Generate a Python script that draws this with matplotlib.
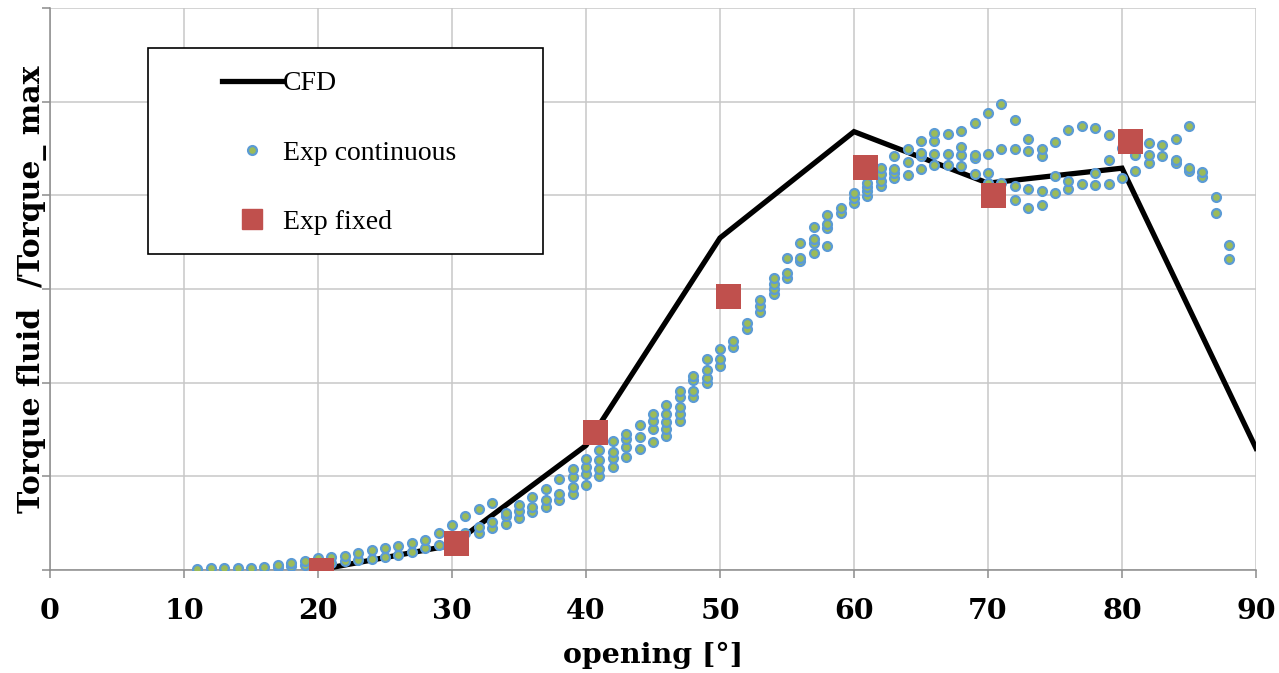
import matplotlib.pyplot as plt
from matplotlib.lines import Line2D
from matplotlib.patches import Rectangle

# CFD results
cfd_angle = [20, 30, 40, 50, 60, 70, 80, 90]
cfd_torque = [0.0, 0.053, 0.266, 0.709, 0.936, 0.826, 0.858, 0.260]

# Experiment, fixed openings
fixed_angle = [20.2, 30.3, 40.7, 50.6, 60.8, 70.4, 80.6]
fixed_torque = [0.0, 0.057, 0.294, 0.585, 0.860, 0.800, 0.915]

# Experiment, continuous sweep (several passes per degree)
cont_angle = list(range(11, 89))
cont_torque = [
    [0.002], [0.004], [0.004], [0.004], [0.004], [0.006],
    [0.007, 0.010], [0.009, 0.016], [0.011, 0.020], [0.013, 0.025],
    [0.014, 0.027], [0.019, 0.030], [0.021, 0.036], [0.023, 0.043],
    [0.028, 0.047], [0.032, 0.051], [0.038, 0.057], [0.046, 0.064],
    [0.053, 0.079], [0.070, 0.097], [0.078, 0.116],
    [0.079, 0.092, 0.131], [0.089, 0.103, 0.142], [0.099, 0.115, 0.122],
    [0.112, 0.126, 0.138], [0.124, 0.135, 0.155], [0.135, 0.149, 0.174],
    [0.149, 0.163, 0.194], [0.163, 0.177, 0.199, 0.215],
    [0.182, 0.204, 0.219, 0.238], [0.200, 0.216, 0.234, 0.257],
    [0.220, 0.240, 0.252, 0.275], [0.241, 0.262, 0.280, 0.291],
    [0.259, 0.284, 0.309], [0.274, 0.301, 0.319, 0.333],
    [0.287, 0.301, 0.316, 0.333, 0.353], [0.319, 0.333, 0.347, 0.369, 0.383],
    [0.369, 0.383, 0.406, 0.415], [0.399, 0.411, 0.426, 0.450],
    [0.436, 0.450, 0.472], [0.477, 0.489], [0.514, 0.528],
    [0.550, 0.564, 0.576], [0.589, 0.599, 0.610, 0.624],
    [0.624, 0.635, 0.667], [0.660, 0.667, 0.699],
    [0.677, 0.699, 0.706, 0.733], [0.691, 0.730, 0.738, 0.759],
    [0.762, 0.773], [0.784, 0.794, 0.805], [0.798, 0.809, 0.817, 0.826],
    [0.819, 0.831, 0.845, 0.858], [0.838, 0.847, 0.857, 0.883],
    [0.844, 0.871, 0.899], [0.857, 0.883, 0.890, 0.917],
    [0.865, 0.889, 0.916, 0.934], [0.864, 0.889, 0.930],
    [0.862, 0.887, 0.904, 0.938], [0.846, 0.879, 0.887, 0.954],
    [0.826, 0.848, 0.888, 0.976], [0.826, 0.899, 0.996],
    [0.789, 0.819, 0.899, 0.960], [0.773, 0.814, 0.894, 0.921],
    [0.780, 0.810, 0.883, 0.899], [0.805, 0.842, 0.913],
    [0.814, 0.830, 0.940], [0.824, 0.948], [0.823, 0.847, 0.943],
    [0.824, 0.876, 0.929], [0.837, 0.901], [0.853, 0.887],
    [0.869, 0.887, 0.911], [0.884, 0.908], [0.869, 0.876, 0.920],
    [0.853, 0.858, 0.948], [0.839, 0.849], [0.762, 0.796], [0.664, 0.693],
]

x_ticks = [0, 10, 20, 30, 40, 50, 60, 70, 80, 90]
y_ticks = [0, 0.2, 0.4, 0.6, 0.8, 1.0, 1.2]

blue = '#5B9BD5'
green = '#9BBB59'
red = '#C0504D'
grid_c = '#C8C8C8'
axis_c = '#8C8C8C'

fig = plt.figure(figsize=(12.79, 6.73), dpi=100)
ax = fig.add_axes([50 / 1279, 1 - 570 / 673, 1206 / 1279, 562 / 673])

# Flatten continuous data
xs, ys = [], []
for a, vals in zip(cont_angle, cont_torque):
    for v in vals:
        xs.append(a)
        ys.append(v)

ax.plot(cfd_angle, cfd_torque, color='black', linewidth=3.8, zorder=3,
        solid_joinstyle='miter')
ax.plot(xs, ys, linestyle='none', marker='o', markersize=6.4,
        markerfacecolor=green, markeredgecolor=blue, markeredgewidth=1.6,
        zorder=4)
ax.plot(fixed_angle, fixed_torque, linestyle='none', marker='s',
        markersize=18, color=red, markeredgewidth=0, zorder=5)

ax.set_xlim(0, 90)
ax.set_ylim(0, 1.2)
ax.set_xticks(x_ticks)
ax.set_yticks(y_ticks)
ax.set_yticklabels([])
ax.grid(True, color=grid_c, linewidth=1.1)
ax.set_axisbelow(True)

for s in ['top', 'right']:
    ax.spines[s].set_visible(False)
for s in ['left', 'bottom']:
    ax.spines[s].set_color(axis_c)
    ax.spines[s].set_linewidth(1.1)
    ax.spines[s].set_zorder(2)

ax.tick_params(axis='both', direction='out', color=axis_c, width=1.1,
               length=6)
ax.tick_params(axis='x', pad=14)
for lab in ax.get_xticklabels():
    lab.set_fontfamily('DejaVu Serif')
    lab.set_fontweight('bold')
    lab.set_fontsize(20.5)

ax.set_xlabel('opening [°]', fontfamily='DejaVu Serif', fontweight='bold',
              fontsize=20.5, labelpad=12)
ax.set_ylabel('Torque fluid  /Torque_ max', fontfamily='DejaVu Serif',
              fontweight='bold', fontsize=21.5, labelpad=-7)

# Legend box
x0 = (148 - 50) / 1206
y0 = (570 - 254) / 562
ax.add_patch(Rectangle((x0, y0), (543 - 148) / 1206, (254 - 48) / 562,
                       transform=ax.transAxes, facecolor='white',
                       edgecolor='black', linewidth=1.2, zorder=6))

handles = [
    Line2D([], [], color='black', linewidth=3.8),
    Line2D([], [], linestyle='none', marker='o', markersize=6.4,
           markerfacecolor=green, markeredgecolor=blue, markeredgewidth=1.6),
    Line2D([], [], linestyle='none', marker='s', markersize=14, color=red),
]
leg = ax.legend(handles, ['CFD', 'Exp continuous', 'Exp fixed'],
                loc='center left',
                bbox_to_anchor=((222 - 50) / 1206, (570 - 153) / 562),
                frameon=False, borderpad=0, borderaxespad=0,
                handlelength=2.15, handletextpad=0.05, labelspacing=1.58,
                prop={'family': 'Liberation Serif', 'size': 20})
leg.set_zorder(7)

fig.savefig('out.png', dpi=100, facecolor='white')
